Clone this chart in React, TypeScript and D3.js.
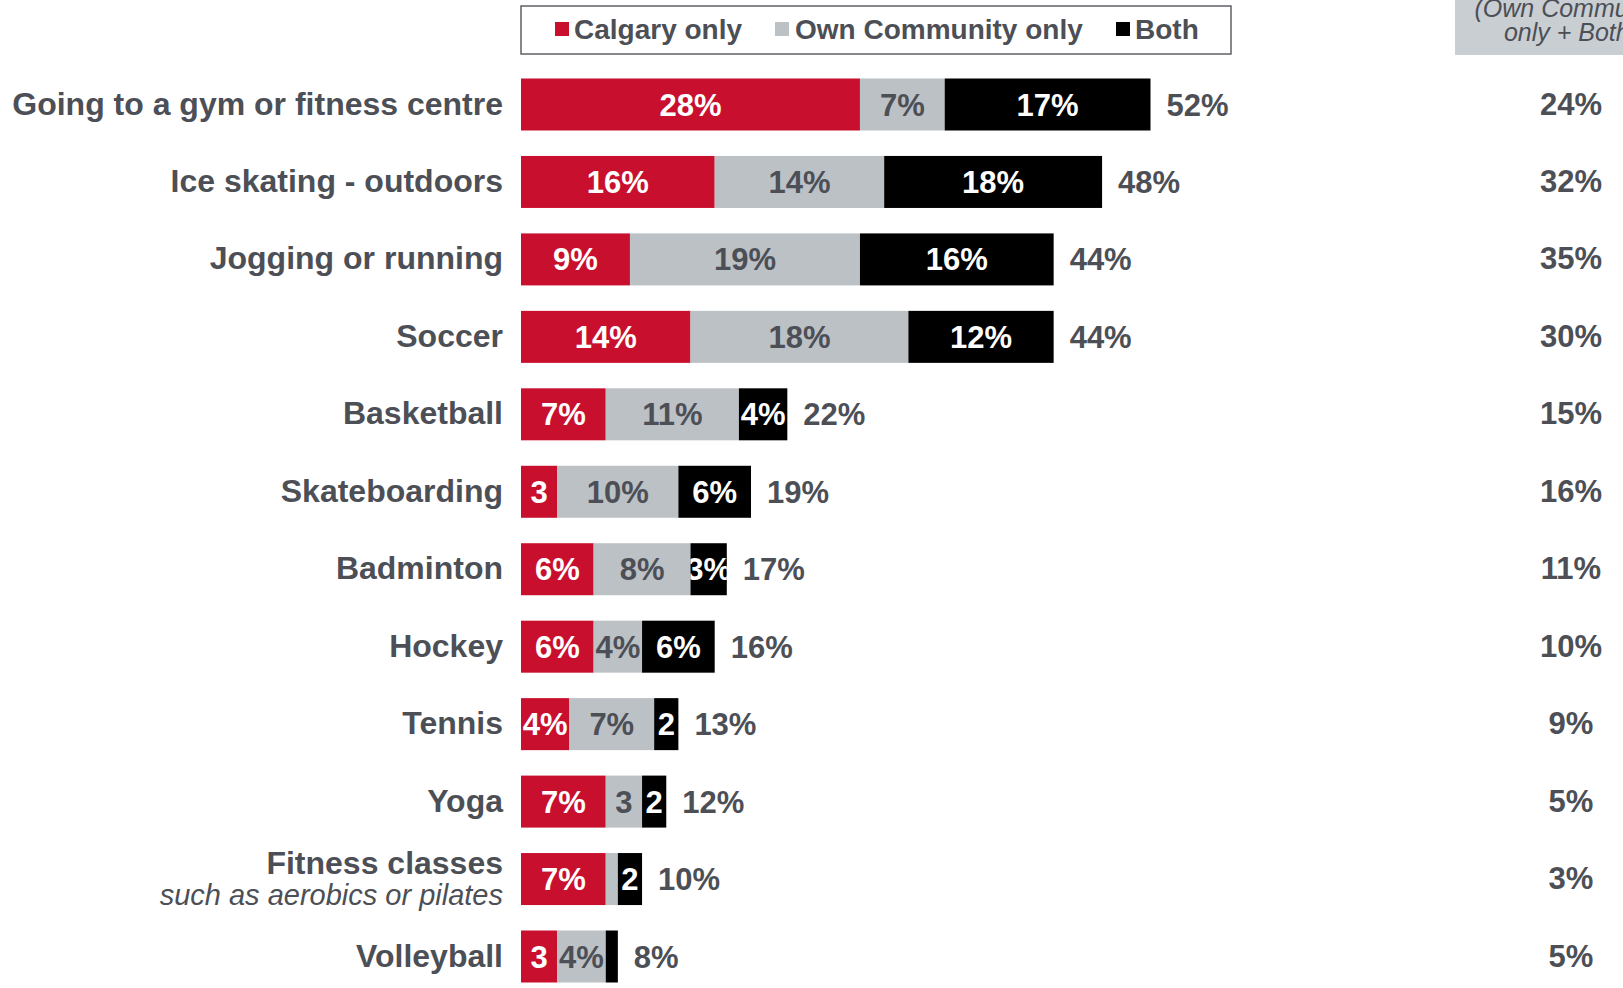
import React from "react";
import * as d3 from "d3";

const categories = [
  "Going to a gym or fitness centre",
  "Ice skating - outdoors",
  "Jogging or running",
  "Soccer",
  "Basketball",
  "Skateboarding",
  "Badminton",
  "Hockey",
  "Tennis",
  "Yoga",
  "Fitness classes",
  "Volleyball",
];
const subtitles = ["", "", "", "", "", "", "", "", "", "", "such as aerobics or pilates", ""];

const calgaryOnly = [28, 16, 9, 14, 7, 3, 6, 6, 4, 7, 7, 3];
const ownCommunityOnly = [7, 14, 19, 18, 11, 10, 8, 4, 7, 3, 1, 4];
const both = [17, 18, 16, 12, 4, 6, 3, 6, 2, 2, 2, 1];
const totals = [52, 48, 44, 44, 22, 19, 17, 16, 13, 12, 10, 8];
const communityTotals = [24, 32, 35, 30, 15, 16, 11, 10, 9, 5, 3, 5];

const calgaryLabels = ["28%", "16%", "9%", "14%", "7%", "3", "6%", "6%", "4%", "7%", "7%", "3"];
const ownLabels = ["7%", "14%", "19%", "18%", "11%", "10%", "8%", "4%", "7%", "3", "", "4%"];
const bothLabels = ["17%", "18%", "16%", "12%", "4%", "6%", "3%", "6%", "2", "2", "2", ""];

const seriesNames = ["Calgary only", "Own Community only", "Both"];
const headerLines = ["(Own Community", "only + Both)"];

const RED = "#c8102e";
const GREY = "#bcc1c6";
const BLACK = "#000000";
const TEXT = "#4d4f56";
const HEADER_BG = "#c9ced3";
const FONT = "'Liberation Sans', Arial, sans-serif";

export default function App() {
  const W = 1623;
  const H = 988;
  const x = d3.scaleLinear().domain([0, 52]).range([521, 1150.5]);
  const y = d3.scalePoint<string>().domain(categories).range([104.5, 956.5]);
  const barH = 52;

  const series = [
    { values: calgaryOnly, labels: calgaryLabels, fill: RED, text: "#ffffff" },
    { values: ownCommunityOnly, labels: ownLabels, fill: GREY, text: TEXT },
    { values: both, labels: bothLabels, fill: BLACK, text: "#ffffff" },
  ];

  const legendItems = [
    { name: seriesNames[0], fill: RED, sq: 555, tx: 574 },
    { name: seriesNames[1], fill: GREY, sq: 775, tx: 795 },
    { name: seriesNames[2], fill: BLACK, sq: 1116, tx: 1135 },
  ];

  return (
    <svg
      width={W}
      height={H}
      style={{ position: "absolute", left: 0, top: 0, background: "#fff" }}
      fontFamily={FONT}
    >
      <defs>
        {categories.map((c, i) => {
          let acc = 0;
          return series.map((s, k) => {
            const x0 = x(acc);
            acc += s.values[i];
            const x1 = x(acc);
            return (
              <clipPath id={`clip-${i}-${k}`} key={`${i}-${k}`}>
                <rect x={x0} y={(y(c) as number) - barH / 2} width={x1 - x0} height={barH} />
              </clipPath>
            );
          });
        })}
      </defs>

      {/* Legend */}
      <rect x={521} y={6} width={710} height={48} fill="#fff" stroke="#5f6064" strokeWidth={1.5} />
      {legendItems.map((l) => (
        <g key={l.name}>
          <rect x={l.sq} y={22} width={14} height={14} fill={l.fill} />
          <text x={l.tx} y={39} fontSize={28} fontWeight="bold" fill={TEXT}>
            {l.name}
          </text>
        </g>
      ))}

      {/* Right header */}
      <rect x={1455} y={-10} width={200} height={65} fill={HEADER_BG} />
      {headerLines.map((t, j) => (
        <text key={t} x={1571} y={17 + j * 24} fontSize={25} fontStyle="italic" fill={TEXT} textAnchor="middle">
          {t}
        </text>
      ))}

      {categories.map((c, i) => {
        const cy = y(c) as number;
        let acc = 0;
        const hasSub = subtitles[i] !== "";
        return (
          <g key={c}>
            {hasSub ? (
              <>
                <text x={503} y={cy - 5} fontSize={32} fontWeight="bold" fill={TEXT} textAnchor="end">
                  {c}
                </text>
                <text x={503} y={cy + 26} fontSize={29} fontStyle="italic" fill={TEXT} textAnchor="end">
                  {subtitles[i]}
                </text>
              </>
            ) : (
              <text x={503} y={cy + 10} fontSize={32} fontWeight="bold" fill={TEXT} textAnchor="end">
                {c}
              </text>
            )}
            {series.map((s, k) => {
              const x0 = x(acc);
              acc += s.values[i];
              const x1 = x(acc);
              return (
                <g key={k}>
                  <rect x={x0} y={cy - barH / 2} width={x1 - x0} height={barH} fill={s.fill} />
                  {s.labels[i] !== "" && (
                    <text
                      x={(x0 + x1) / 2}
                      y={cy + 11}
                      fontSize={31}
                      fontWeight="bold"
                      fill={s.text}
                      textAnchor="middle"
                      clipPath={`url(#clip-${i}-${k})`}
                    >
                      {s.labels[i]}
                    </text>
                  )}
                </g>
              );
            })}
            <text x={x(totals[i]) + 16} y={cy + 11} fontSize={31} fontWeight="bold" fill={TEXT}>
              {`${totals[i]}%`}
            </text>
            <text x={1571} y={cy + 10} fontSize={31} fontWeight="bold" fill={TEXT} textAnchor="middle">
              {`${communityTotals[i]}%`}
            </text>
          </g>
        );
      })}
    </svg>
  );
}
